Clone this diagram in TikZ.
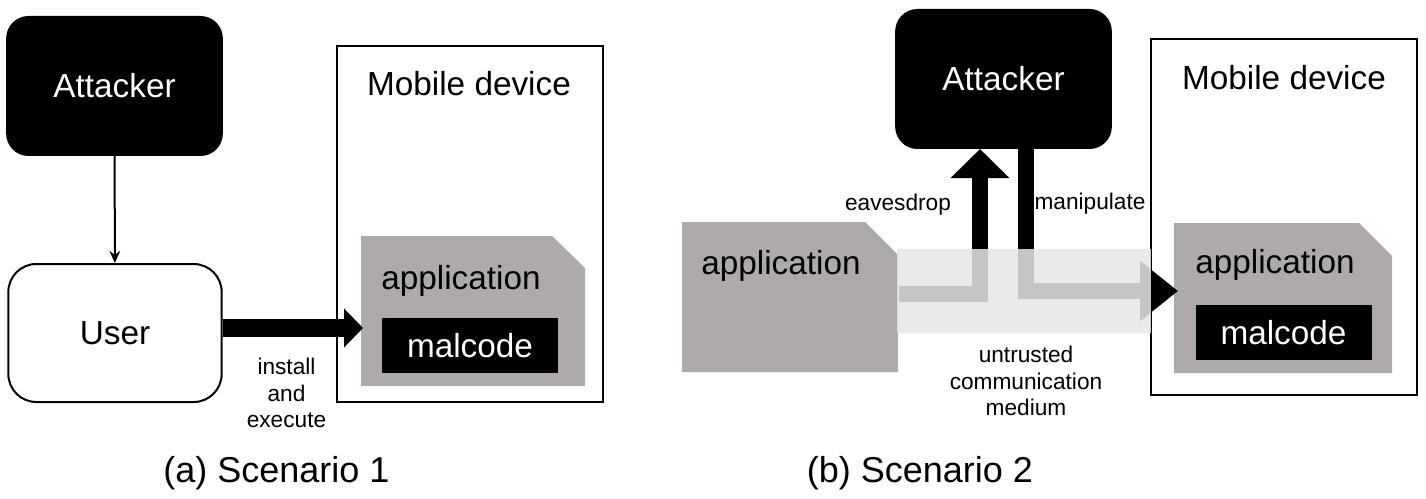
\documentclass[tikz,border=0pt]{standalone}
\usepackage{fontspec}
\setmainfont{Liberation Sans}
\usetikzlibrary{arrows.meta}
\definecolor{appgray}{RGB}{174,170,170}
\tikzset{every picture/.style={line width=1.5pt}}
\tikzset{
  attackerbox/.style={draw=black,fill=black,text=white,rounded corners=16pt,minimum width=161pt,minimum height=103.5pt,inner sep=0pt,font=\fontsize{25}{30}\selectfont},
  userbox/.style={draw=black,fill=white,rounded corners=21pt,minimum width=160pt,minimum height=103.5pt,inner sep=0pt,font=\fontsize{25}{30}\selectfont},
  devicebox/.style={draw=black,fill=white,minimum width=200pt,minimum height=266.5pt,inner sep=0pt},
  malbox/.style={fill=black,text=white,minimum width=132pt,minimum height=41.25pt,inner sep=0pt,font=\fontsize{25}{30}\selectfont},
  bigtext/.style={inner sep=0pt,font=\fontsize{25}{30}\selectfont},
  smalltext/.style={inner sep=0pt,align=center,font=\fontsize{17}{20}\selectfont},
  captiontext/.style={inner sep=0pt,font=\fontsize{27}{32}\selectfont},
  appshape/.style={fill=appgray},
  fatarrow/.style={line width=12pt,-{Triangle[length=#1]}},
}
\begin{document}
\begin{tikzpicture}[x=0.75pt,y=0.75pt,yscale=-1,xscale=1]
    \useasboundingbox (0,0) rectangle (1426,499);
    %Scenario 1
    \node [attackerbox] (attackerA) at (114.5,86) {Attacker};
    \node [userbox] (userA) at (115,333) {User};
    \node [devicebox] (deviceA) at (470,224) {};
    % Text Node
    \node [bigtext] (deviceAtext) at (469,84) {Mobile device};
    %Shape: application
    \fill [appshape] (361,236) -- (552,236) -- (585,268) -- (585,386) -- (361,386) -- cycle;
    % Text Node
    \node [bigtext] (appAtext) at (461,281) {application};
    \node [malbox] (malA) at (470,345.5) {malcode};
    \coordinate (installend) at (363,328);
    \draw [-{Stealth[length=9pt,width=8pt]}] (attackerA) -- (userA);
    \draw [line width=13.5pt,-{Triangle[length=14.25pt,width=28.5pt]}] (userA.east |- installend) -- (installend);
    % Text Node
    \node [smalltext] (installtext) at (286.5,393) {install\\and\\execute};
    % Text Node
    \node [captiontext] (captionA) at (276.5,473) {(a) Scenario 1};
    %Scenario 2
    \node [attackerbox] (attackerB) at (1003.5,79) {Attacker};
    \node [devicebox] (deviceB) at (1284,217) {};
    % Text Node
    \node [bigtext] (deviceBtext) at (1284,78) {Mobile device};
    %Shape: application
    \fill [appshape] (682,222) -- (865,222) -- (898,255) -- (898,372) -- (682,372) -- cycle;
    \fill [appshape] (1174,223) -- (1359,223) -- (1392,256) -- (1392,373) -- (1174,373) -- cycle;
    % Text Node
    \node [bigtext] (appBtext) at (781,266) {application};
    % Text Node
    \node [bigtext] (appCtext) at (1275,265) {application};
    \node [malbox] (malB) at (1283.5,332.5) {malcode};
    \coordinate (eaveStart) at (899,294);
    \coordinate (eaveCorner) at (980,294);
    \coordinate (eaveEnd) at (980,149);
    \coordinate (maniTop) at (1026,148);
    \coordinate (maniCorner) at (1026,291);
    \coordinate (maniEnd) at (1178,291);
    \draw [line width=12pt,miter limit=10,-{Triangle[length=21.75pt,width=42.75pt]}] (eaveStart) -- (eaveCorner) -- (eaveEnd);
    \draw [line width=11.5pt,miter limit=10,-{Triangle[length=28.5pt,width=43.5pt]}] (maniTop) -- (maniCorner) -- (maniEnd);
    %Shape: medium
    \fill [fill={rgb,255:red,230;green,230;blue,230},fill opacity=0.86] (897,249) rectangle (1151,333);
    % Text Node
    \node [smalltext] (eavetext) at (898,205) {eavesdrop};
    % Text Node
    \node [smalltext] (manitext) at (1090,204) {manipulate};
    % Text Node
    \node [smalltext] (mediumtext) at (1026,381) {untrusted\\communication\\medium};
    % Text Node
    \node [captiontext] (captionB) at (920,473) {(b) Scenario 2};
\end{tikzpicture}
\end{document}
